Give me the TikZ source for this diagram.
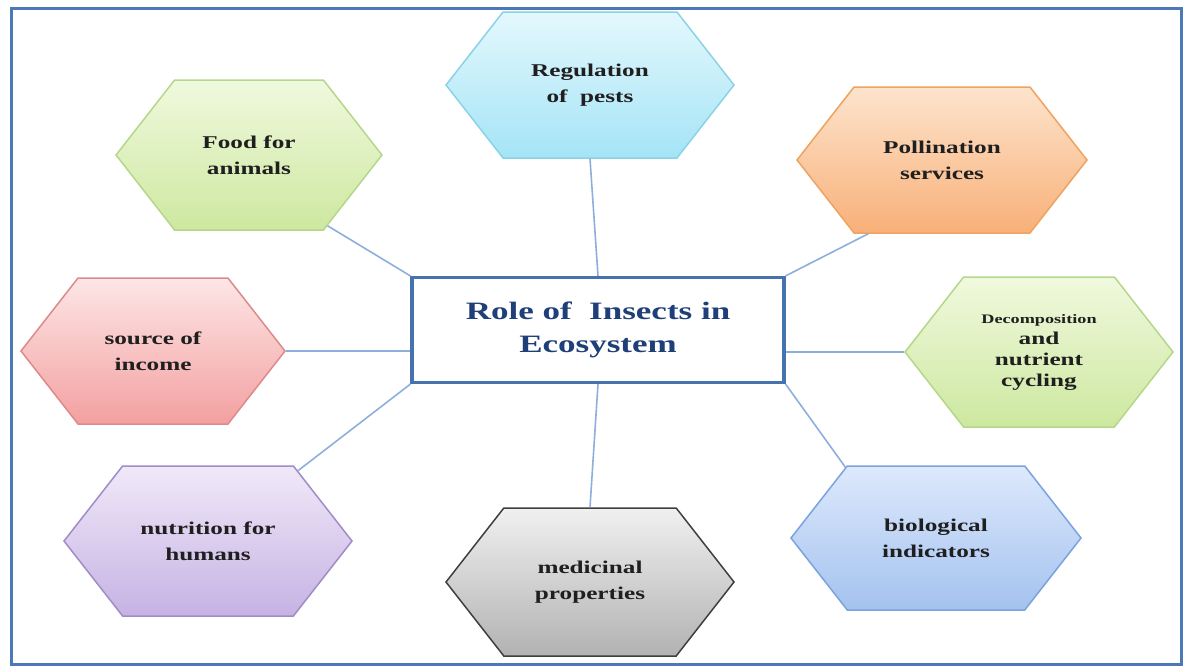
\documentclass[tikz,border=0pt]{standalone}
\usepackage{fontspec}
\setmainfont{Liberation Serif}
\newfontfamily\widefont[FakeStretch=1.4]{Liberation Serif}
\usepackage{tikz}
\usetikzlibrary{shapes.symbols}

\definecolor{frameblue}{HTML}{4A78B8}
\definecolor{linkblue}{HTML}{8EAEDB}
\definecolor{titleblue}{HTML}{1F3F78}
\definecolor{cyantop}{HTML}{E4F8FD}
\definecolor{cyanbot}{HTML}{A4E4F6}
\definecolor{cyanline}{HTML}{8CD2E6}
\definecolor{greentop}{HTML}{F0F9DE}
\definecolor{greenbot}{HTML}{CDE8A0}
\definecolor{greenline}{HTML}{B5D78A}
\definecolor{orangetop}{HTML}{FDE4CD}
\definecolor{orangebot}{HTML}{F8B078}
\definecolor{orangeline}{HTML}{EEA35F}
\definecolor{redtop}{HTML}{FDE6E6}
\definecolor{redbot}{HTML}{F3A0A0}
\definecolor{redline}{HTML}{DC8A8A}
\definecolor{violettop}{HTML}{F0E9F8}
\definecolor{violetbot}{HTML}{C6B2E4}
\definecolor{violetline}{HTML}{A08CC8}
\definecolor{greytop}{HTML}{F0F0F0}
\definecolor{greybot}{HTML}{B2B2B2}
\definecolor{greyline}{HTML}{3F3F3F}
\definecolor{bluetop}{HTML}{DDE9FC}
\definecolor{bluebot}{HTML}{A4C2EF}
\definecolor{blueline}{HTML}{7CA2DC}

\begin{document}
\begin{tikzpicture}[x=0.5pt,y=-0.5pt,
    hex/.style={signal,signal to=east and west,signal pointer angle=104,draw,line width=0.75pt,
      minimum width=144pt,minimum height=73pt,inner sep=0pt,align=center,text=black!88,
      font=\widefont\fontsize{9}{13}\selectfont\bfseries},
    link/.style={draw=linkblue,line width=0.8pt}]
        \useasboundingbox (0,0) rectangle (1184,666);
        \draw[frameblue,line width=1.5pt] (11,8) rectangle (1181,664);

        \node[draw=frameblue!95!black,line width=1.6pt,minimum width=186pt,minimum height=52.5pt,align=center,
              text=titleblue,font=\widefont\fontsize{12.5}{16.5}\selectfont\bfseries] (ctr) at (598,330)
              {Role of\ \ Insects in\\Ecosystem};
        \node[hex,top color=cyantop,bottom color=cyanbot,draw=cyanline] (reg) at (590,85) {Regulation\\of\ \ pests};
        \node[hex,minimum width=133pt,minimum height=75pt,top color=greentop,bottom color=greenbot,draw=greenline] (food) at (249,155) {Food for\\animals};
        \node[hex,minimum width=145pt,top color=orangetop,bottom color=orangebot,draw=orangeline] (poll) at (942,160) {Pollination\\services};
        \node[hex,minimum width=132pt,top color=redtop,bottom color=redbot,draw=redline] (inc) at (153,351) {source of\\income};
        \node[hex,minimum width=134pt,minimum height=75pt,top color=greentop,bottom color=greenbot,draw=greenline,
              font=\widefont\fontsize{9}{10.5}\selectfont\bfseries] (deco) at (1039,352)
             {{\fontsize{6.5}{8}\selectfont Decomposition}\\and\\nutrient\\cycling};
        \node[hex,minimum height=75pt,top color=violettop,bottom color=violetbot,draw=violetline] (nutr) at (208,541) {nutrition for\\humans};
        \node[hex,minimum height=74pt,top color=greytop,bottom color=greybot,draw=greyline] (med) at (590,582) {medicinal\\properties};
        \node[hex,minimum width=145pt,minimum height=72pt,top color=bluetop,bottom color=bluebot,draw=blueline] (bio) at (936,538) {biological\\indicators};

        \path[link] (ctr.north) edge (reg.south)
                    (ctr.north west) edge (food.-42)
                    (ctr.north east) edge (poll.225)
                    (ctr.south west) edge (nutr.38)
                    (ctr.south) edge (med.north)
                    (ctr.south east) edge (bio.142)
                    (inc.east) edge (inc.east -| ctr.west)
                    (deco.west) edge (deco.west -| ctr.east);
    \end{tikzpicture}
\end{document}
